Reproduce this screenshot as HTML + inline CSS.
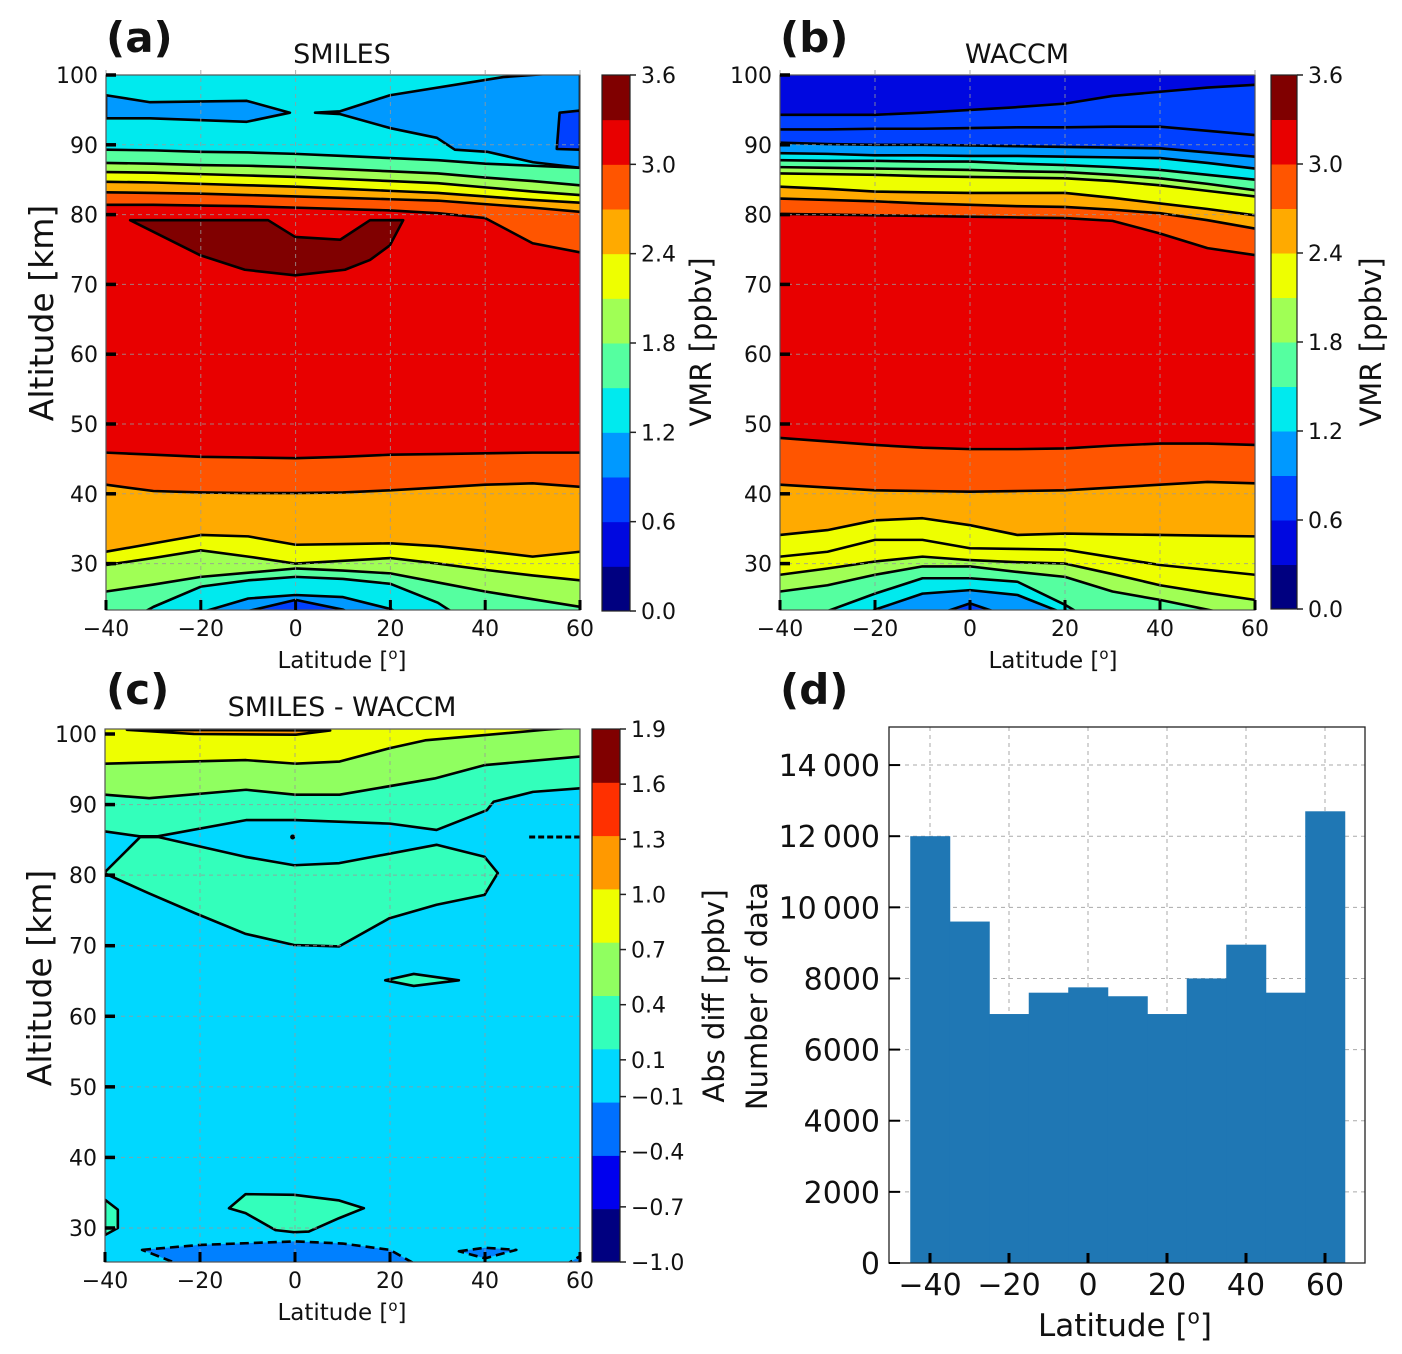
<!DOCTYPE html>
<html><head><meta charset="utf-8"><style>
html,body{margin:0;padding:0;background:#fff;}
svg{display:block;font-family:"DejaVu Sans","Liberation Sans",sans-serif;}
</style></head><body>
<svg id="fig" width="1402" height="1354" viewBox="0 0 1402 1354" xmlns="http://www.w3.org/2000/svg">
<defs>
<clipPath id="clipA"><rect x="106" y="75" width="474" height="535"/></clipPath>
<clipPath id="clipB"><rect x="780" y="75" width="475" height="535"/></clipPath>
<clipPath id="clipC"><rect x="105" y="729" width="475" height="533"/></clipPath>
</defs>
<g id="root"></g>
</svg>
<script>
// ===== shared latitude grid =====
const lats = [-40,-30,-20,-10,0,10,20,30,40,50,60];

// ===== Panel (a) SMILES contour boundaries (altitude km at each lat) =====
const aL1 = [89.3,89.2,89.0,88.9,88.7,88.4,88.1,87.8,87.3,87.0,86.7];
const aL2 = [87.4,87.3,87.1,87.0,86.8,86.5,86.2,85.9,85.3,84.8,84.2];
const aL3 = [86.1,86.0,85.8,85.6,85.4,85.1,84.8,84.5,83.9,83.3,82.8];
const aL4 = [84.7,84.6,84.4,84.2,84.0,83.7,83.4,83.1,82.6,82.1,81.7];
const aL5 = [83.2,83.1,83.0,82.8,82.6,82.4,82.2,82.0,81.5,81.0,80.4];
const aL6 = [81.4,81.4,81.3,81.2,81.0,80.8,80.6,80.2,79.5,75.9,74.6];
const aL7 = [45.9,45.6,45.3,45.2,45.1,45.3,45.6,45.7,45.8,45.9,45.9];
const aL8 = [41.3,40.4,40.2,40.1,40.1,40.2,40.5,40.9,41.3,41.5,41.0];
const aL9 = [31.7,32.9,34.1,33.9,32.7,32.8,32.9,32.5,31.8,31.0,31.7];
const aL10 = [29.8,30.8,31.9,31.0,30.0,30.4,30.8,30.0,29.1,28.3,27.6];
const aL11 = [26.0,27.0,28.1,28.7,29.3,29.0,28.6,27.3,26.0,24.9,23.8];
const aL12 = [20.0,23.8,26.7,27.6,28.1,27.8,27.1,24.4,20.0,20.0,20.0];
const aL13 = [20.0,20.0,23.0,25.0,25.5,25.2,23.5,20.0,20.0,20.0,20.0];
const aL14 = [20.0,20.0,20.0,23.2,24.8,23.4,20.0,20.0,20.0,20.0,20.0];
// closed regions (a)
const aLensLat = [-40,-30.7,-10.3,-1.2,-10.3,-30.7,-40];
const aLensAlt = [97.1,96.1,96.3,94.6,93.3,93.8,93.8];
const aRightLat = [4.1,9.4,19.9,43.8,60,60,50.1,40.4,33.6,29.8,19.9,9.4];
const aRightAlt = [94.6,94.8,97.1,99.7,100.5,86.7,87.5,89.0,89.3,91.0,92.4,94.4];
const aPatchLat = [55.7,60,60,55.1];
const aPatchAlt = [94.6,94.9,89.3,89.4];
const aMaxLat = [-34.9,-5.8,-0.1,9.4,15.7,22.7,19.9,15.7,10.4,-0.1,-10.7,-20.2];
const aMaxAlt = [79.2,79.2,76.8,76.4,79.2,79.2,75.6,73.5,72.1,71.3,72.1,74.2];

// ===== Panel (b) WACCM contour boundaries =====
const bL1 = [94.3,94.3,94.3,94.6,95.0,95.4,95.9,97.0,97.6,98.2,98.6];
const bL2 = [92.2,92.2,92.3,92.3,92.4,92.5,92.5,92.6,92.6,92.0,91.4];
const bL3 = [90.3,90.1,90.0,90.0,89.9,89.8,89.7,89.6,89.5,88.9,88.3];
const bL4 = [88.8,88.7,88.5,88.5,88.4,88.4,88.3,88.2,88.1,87.4,86.6];
const bL5 = [87.8,87.7,87.7,87.6,87.6,87.3,87.1,86.8,86.4,85.7,85.0];
const bL6 = [86.8,86.7,86.6,86.5,86.4,86.2,86.1,85.7,85.2,84.4,83.5];
const bL7 = [85.9,85.8,85.7,85.5,85.4,85.3,85.2,84.8,84.2,83.4,82.6];
const bL8 = [84.0,83.7,83.3,83.2,83.1,83.1,83.1,82.4,81.6,80.8,79.9];
const bL9 = [82.3,82.1,81.9,81.6,81.4,81.2,81.1,80.7,80.2,79.2,78.0];
const bL10 = [80.1,80.0,79.9,79.8,79.7,79.6,79.5,79.1,77.3,75.2,74.2];
const bL11 = [48.0,47.5,47.0,46.6,46.4,46.4,46.5,46.9,47.2,47.2,47.0];
const bL12 = [41.3,40.9,40.5,40.4,40.3,40.4,40.5,40.9,41.3,41.7,41.5];
const bL13 = [34.1,34.8,36.2,36.5,35.5,34.1,34.3,34.2,34.1,34.0,33.9];
const bL14 = [31.0,31.7,33.4,33.4,32.2,32.1,32.0,30.9,29.8,29.1,28.4];
const bL15 = [28.4,29.3,30.3,31.0,30.5,30.2,30.0,28.5,26.9,25.8,24.8];
const bL16 = [26.0,26.9,28.4,29.6,29.6,28.8,28.1,26.0,24.8,23.4,22.0];
const bL17 = [20.0,23.2,25.7,27.9,27.9,27.4,24.1,20.0,20.0,20.0,20.0];
const bL18 = [20.0,20.0,23.4,25.7,26.2,25.5,22.8,20.0,20.0,20.0,20.0];
const bL19 = [20.0,20.0,20.0,22.0,24.3,22.0,20.0,20.0,20.0,20.0,20.0];

// ===== Panel (c) SMILES - WACCM =====
const cTopLensLat = [-35.4,-21.3,0.2,7.4];
const cTopLensAlt = [100.6,100.0,99.9,100.5];
const cL1Lat = [-40,-10.3,0,9.4,20,27.4,52.6,60];
const cL1Alt = [95.8,96.3,95.8,96.1,98.0,99.1,100.6,101];
const cL2Lat = [-40,-30.7,-10.3,0,9.4,29.4,40,60];
const cL2Alt = [91.4,90.9,92.1,91.4,91.4,93.7,95.6,96.8];
const cL3Lat = [-40,-32.7,-28.9,-10.3,0,20,29.8,40.4,41.8,50.1,60];
const cL3Alt = [86.2,85.5,85.5,87.8,87.8,87.3,86.4,89.2,90.4,91.8,92.3];
const cLensLat = [-39.9,-32.6,-28.8,-10.5,-0.2,9.3,29.8,39.9,42.7,39.9,29.8,19.9,9.3,-0.2,-10.5,-21.0,-30.7,-39.9];
const cLensAlt = [80.5,85.4,85.4,82.6,81.4,81.7,84.3,82.6,80.3,77.2,75.8,73.9,69.9,70.1,71.7,74.6,77.4,80.2];
const cSmallLat = [19.0,25,34.5,25];
const cSmallAlt = [65.1,66.0,65.1,64.3];
const cBlobLat = [-13.9,-10.4,-0.2,9.3,14.5,9.3,2.9,-0.2,-4.1,-10.4];
const cBlobAlt = [32.8,34.8,34.7,33.9,32.8,31.4,29.5,29.4,29.7,32.1];
const cLeftLat = [-40,-37.3,-37.3,-40];
const cLeftAlt = [34.0,32.6,30.0,29.0];
const cNegLat = [-32.2,-20,0,10,20,25,-25];
const cNegAlt = [26.9,27.6,28.1,27.8,26.9,25.0,25.0];
const cNeg2Lat = [34.5,40,46.6,40];
const cNeg2Alt = [26.7,27.2,26.9,25.7];
const cNeg3Lat = [57.5,60,60];
const cNeg3Alt = [25.0,25.0,26.0];

// ===== Panel (d) histogram =====
const binEdges = [-45,-35,-25,-15,-5,5,15,25,35,45,55,65];
const counts = [12000,9600,7000,7600,7750,7500,7000,8000,8950,7600,12700];
const dYTicks = [0,2000,4000,6000,8000,10000,12000,14000];
const dYLabels = ["0","2000","4000","6000","8000","10\u2009000","12\u2009000","14\u2009000"];
const latTicks = [-40,-20,0,20,40,60];
const latLabels = ["\u221240","\u221220","0","20","40","60"];
const altTicks = [100,90,80,70,60,50,40,30];
const vmrTicks = [3.6,3.0,2.4,1.8,1.2,0.6,0.0];
const vmrLabels = ["3.6","3.0","2.4","1.8","1.2","0.6","0.0"];
const diffTicks = [1.9,1.6,1.3,1.0,0.7,0.4,0.1,-0.1,-0.4,-0.7,-1.0];
const diffLabels = ["1.9","1.6","1.3","1.0","0.7","0.4","0.1","\u22120.1","\u22120.4","\u22120.7","\u22121.0"];

const C = ['#000080','#0008e0','#0040ff','#0099ff','#00eaee','#55ffa0','#a0ff55','#eeff00','#ffaa00','#ff5500','#e80000','#800000'];
const DC = ['#000080','#0000ee','#0070ff','#00d8ff','#33ffbb','#90ff60','#eeff00','#ff9900','#ff3000','#800000'];

const NS='http://www.w3.org/2000/svg';
const root=document.getElementById('root');
function mk(tag,attrs,parent){const e=document.createElementNS(NS,tag);for(const k in attrs)e.setAttribute(k,attrs[k]);(parent||root).appendChild(e);return e;}

function panel(x0,x1,yTop,ppk,yBot){
  return {x0,x1,yTop,yBot,ppk,
    X:lat=>x0+(lat+40)*(x1-x0)/100,
    Y:alt=>yTop+(100-alt)*ppk};
}
const PA=panel(106,580,75,6.98,610);
const PB=panel(780,1255,75,6.98,610);
const PC=panel(105,580,734,7.057,1262);

function fillBelow(P,g,la,al,color,name){
  let pts=[[P.X(-45),P.Y(al[0])]];
  for(let i=0;i<la.length;i++)pts.push([P.X(la[i]),P.Y(al[i])]);
  pts.push([P.X(65),P.Y(al[al.length-1])]);
  const poly=pts.concat([[P.X(65),P.yBot+20],[P.X(-45),P.yBot+20]]);
  const p=mk('polygon',{points:poly.map(q=>q.join(',')).join(' '),fill:color},g);
  
  
  const l=mk('polyline',{points:pts.map(q=>q.join(',')).join(' '),fill:'none',stroke:'#000','stroke-width':2.6,'stroke-linejoin':'round'},g);
  
  
}
function region(P,g,la,al,color,name,dash){
  const pts=la.map((v,i)=>P.X(v)+','+P.Y(al[i])).join(' ');
  const attrs={points:pts,fill:color,stroke:'#000','stroke-width':2.6,'stroke-linejoin':'round'};
  if(dash)attrs['stroke-dasharray']=dash;
  const p=mk('polygon',attrs,g);
  
  
}
function text(x,y,s,opts,parent){
  const t=mk('text',Object.assign({x:x,y:y,'font-size':22,fill:'#111'},opts||{}),parent);
  t.textContent=s;return t;
}
function latLabel(x,y,size,parent){
  const t=mk('text',{x:x,y:y,'font-size':size,'text-anchor':'middle',fill:'#111'},parent);
  
  
  t.appendChild(document.createTextNode('Latitude ['));
  const s=mk('tspan',{'font-size':size*0.65,dy:-size*0.4},t);s.textContent='o';
  const s2=mk('tspan',{dy:size*0.4},t);s2.textContent=']';
}
function axes(P,g,showX){
  // grid
  latTicks.forEach(v=>{mk('line',{x1:P.X(v),x2:P.X(v),y1:P.yTop-5,y2:P.yBot,stroke:'#999','stroke-width':1,'stroke-dasharray':'4,4',opacity:0.8},g);});
  altTicks.forEach(v=>{const y=P.Y(v);if(y>P.yTop+2)mk('line',{x1:P.x0,x2:P.x1,y1:y,y2:y,stroke:'#999','stroke-width':1,'stroke-dasharray':'4,4',opacity:0.8},g);});
  mk('rect',{x:P.x0,y:P.yTop-(P===PC?5:0),width:P.x1-P.x0,height:P.yBot-P.yTop+(P===PC?5:0),fill:'none',stroke:'#555','stroke-width':1.2},g);
  altTicks.forEach(v=>{const y=P.Y(v);mk('line',{x1:P.x0,x2:P.x0+10,y1:y,y2:y,stroke:'#000','stroke-width':3.5},g);
    const t=text(P.x0-8,y+8,String(v),{'text-anchor':'end'},g);
    
    });
  latTicks.forEach((v,i)=>{const x=P.X(v);mk('line',{x1:x,x2:x,y1:P.yBot,y2:P.yBot-10,stroke:'#000','stroke-width':3},g);
    const t=text(x,P.yBot+26,latLabels[i],{'text-anchor':'middle'},g);
    
    });
}
function colorbar(x,y0,y1,w,cols,ticks,labels,vmin,vmax,name){
  const g=mk('g',{});
  
  
  const n=cols.length,h=(y1-y0)/n;
  cols.forEach((c,i)=>mk('rect',{x:x,y:y1-(i+1)*h,width:w,height:h+0.5,fill:c},g));
  mk('rect',{x:x,y:y0,width:w,height:y1-y0,fill:'none',stroke:'#222','stroke-width':1.2},g);
  ticks.forEach((v,i)=>{const y=y1-(v-vmin)/(vmax-vmin)*(y1-y0);
    mk('line',{x1:x+w,x2:x+w+6,y1:y,y2:y,stroke:'#222','stroke-width':1.5},g);
    const t=text(x+w+11,y+8,labels[i],{},g);
    
    });
}

// ---------- Panel A ----------
const gA=mk('g',{'clip-path':'url(#clipA)'});


mk('rect',{x:106,y:70,width:480,height:545,fill:C[4]},gA);
region(PA,gA,aLensLat,aLensAlt,C[3],'blue-lens-region');
region(PA,gA,aRightLat,aRightAlt,C[3],'blue-right-region');
region(PA,gA,aPatchLat,aPatchAlt,C[2],'dark-blue-patch');
[[aL1,5],[aL2,6],[aL3,7],[aL4,8],[aL5,9],[aL6,10]].forEach((a,i)=>fillBelow(PA,gA,lats,a[0],C[a[1]],'smiles-level-'+i));
region(PA,gA,aMaxLat,aMaxAlt,C[11],'maximum-region');
[[aL7,9],[aL8,8],[aL9,7],[aL10,6],[aL11,5],[aL12,4],[aL13,3],[aL14,2]].forEach((a,i)=>fillBelow(PA,gA,lats,a[0],C[a[1]],'smiles-low-level-'+i));
axes(PA,mk('g',{}));
colorbar(602,75,611,28,C,vmrTicks,vmrLabels,0,3.6,'vmr-colorbar-a');

// ---------- Panel B ----------
const gB=mk('g',{'clip-path':'url(#clipB)'});


mk('rect',{x:780,y:70,width:480,height:545,fill:C[1]},gB);
[[bL1,2],[bL2,2],[bL3,3],[bL4,4],[bL5,5],[bL6,6],[bL7,7],[bL8,8],[bL9,9],[bL10,10],[bL11,9],[bL12,8],[bL13,7],[bL14,7],[bL15,6],[bL16,5],[bL17,4],[bL18,3],[bL19,2]]
 .forEach((a,i)=>fillBelow(PB,gB,lats,a[0],C[a[1]],'waccm-level-'+i));
axes(PB,mk('g',{}));
colorbar(1271,75,609,26,C,vmrTicks,vmrLabels,0,3.6,'vmr-colorbar-b');

// ---------- Panel C ----------
const gC=mk('g',{'clip-path':'url(#clipC)'});


mk('rect',{x:105,y:725,width:480,height:545,fill:DC[6]},gC);
region(PC,gC,cTopLensLat,cTopLensAlt,DC[7],'top-orange-lens');
fillBelow(PC,gC,cL1Lat,cL1Alt,DC[5],'diff-level-1');
fillBelow(PC,gC,cL2Lat,cL2Alt,DC[4],'diff-level-2');
fillBelow(PC,gC,cL3Lat,cL3Alt,DC[3],'diff-level-3');
region(PC,gC,cLensLat,cLensAlt,DC[4],'teal-lens-region');
region(PC,gC,cSmallLat,cSmallAlt,DC[4],'small-teal-region');
region(PC,gC,cBlobLat,cBlobAlt,DC[4],'teal-blob-30km');
region(PC,gC,cLeftLat,cLeftAlt,DC[4],'left-teal-patch');
region(PC,gC,cNegLat,cNegAlt,'#0080ff','negative-region','9,5');
region(PC,gC,cNeg2Lat,cNeg2Alt,'#0080ff','negative-region-2','9,5');
region(PC,gC,cNeg3Lat,cNeg3Alt,'#0080ff','negative-region-3','9,5');
mk('circle',{cx:PC.X(-0.5),cy:PC.Y(85.4),r:2.5,fill:'#000'},gC);
mk('line',{x1:PC.X(49.3),x2:PC.X(60),y1:PC.Y(85.4),y2:PC.Y(85.4),stroke:'#000','stroke-width':3,'stroke-dasharray':'6,3'},gC);
axes(PC,mk('g',{}));
colorbar(592,729,1262,28,DC,diffTicks,diffLabels,-1.0,1.9,'diff-colorbar');

// ---------- Panel D ----------
const gD=mk('g',{});


const DX=lat=>930+(lat+40)*3.95;
const DY=v=>1263-v*(536/15070);
latTicks.forEach(v=>mk('line',{x1:DX(v),x2:DX(v),y1:727,y2:1263,stroke:'#aaa','stroke-width':1,'stroke-dasharray':'4,4'},gD));
dYTicks.forEach(v=>mk('line',{x1:889,x2:1365,y1:DY(v),y2:DY(v),stroke:'#aaa','stroke-width':1,'stroke-dasharray':'4,4'},gD));
counts.forEach((c,i)=>{
  const r=mk('rect',{x:DX(binEdges[i]),y:DY(c),width:DX(binEdges[i+1])-DX(binEdges[i])+0.5,height:1263-DY(c),fill:'#1f77b4'},gD);
  
  
});
mk('rect',{x:889,y:727,width:476,height:536,fill:'none',stroke:'#222','stroke-width':1.3},gD);
dYTicks.forEach((v,i)=>{mk('line',{x1:889,x2:900,y1:DY(v),y2:DY(v),stroke:'#000','stroke-width':2},gD);
  const t=text(880,DY(v)+11,dYLabels[i],{'text-anchor':'end','font-size':30},gD);
  
  });
latTicks.forEach((v,i)=>{mk('line',{x1:DX(v),x2:DX(v),y1:1263,y2:1253,stroke:'#000','stroke-width':3},gD);
  const t=text(DX(v),1295,latLabels[i],{'text-anchor':'middle','font-size':30},gD);
  
  });

// ---------- titles & labels ----------
function label(x,y,s,opts,name){const t=text(x,y,s,opts);return t;}
label(106,52,'(a)',{'font-size':42,'font-weight':'bold'},'panel-label-a');
label(780,52,'(b)',{'font-size':42,'font-weight':'bold'},'panel-label-b');
label(106,704,'(c)',{'font-size':42,'font-weight':'bold'},'panel-label-c');
label(780,704,'(d)',{'font-size':42,'font-weight':'bold'},'panel-label-d');
label(342,63,'SMILES',{'font-size':27,'text-anchor':'middle'},'title-smiles');
label(1017,63,'WACCM',{'font-size':27,'text-anchor':'middle'},'title-waccm');
label(342,716,'SMILES - WACCM',{'font-size':27,'text-anchor':'middle'},'title-difference');
label(0,0,'Altitude [km]',{'font-size':33,'text-anchor':'middle',transform:'translate(53,313) rotate(-90)'},'y-axis-title-a');
label(0,0,'Altitude [km]',{'font-size':33,'text-anchor':'middle',transform:'translate(51,978) rotate(-90)'},'y-axis-title-c');
label(0,0,'VMR [ppbv]',{'font-size':29,'text-anchor':'middle',transform:'translate(711,342) rotate(-90)'},'colorbar-title-a');
label(0,0,'VMR [ppbv]',{'font-size':29,'text-anchor':'middle',transform:'translate(1381,342) rotate(-90)'},'colorbar-title-b');
label(0,0,'Abs diff [ppbv]',{'font-size':29,'text-anchor':'middle',transform:'translate(724,996) rotate(-90)'},'colorbar-title-c');
label(0,0,'Number of data',{'font-size':29,'text-anchor':'middle',transform:'translate(767,996) rotate(-90)'},'y-axis-title-d');
latLabel(342,668,23);
latLabel(1053,668,23);
latLabel(342,1320,23);
latLabel(1125,1336,31);
</script>
</body></html>
